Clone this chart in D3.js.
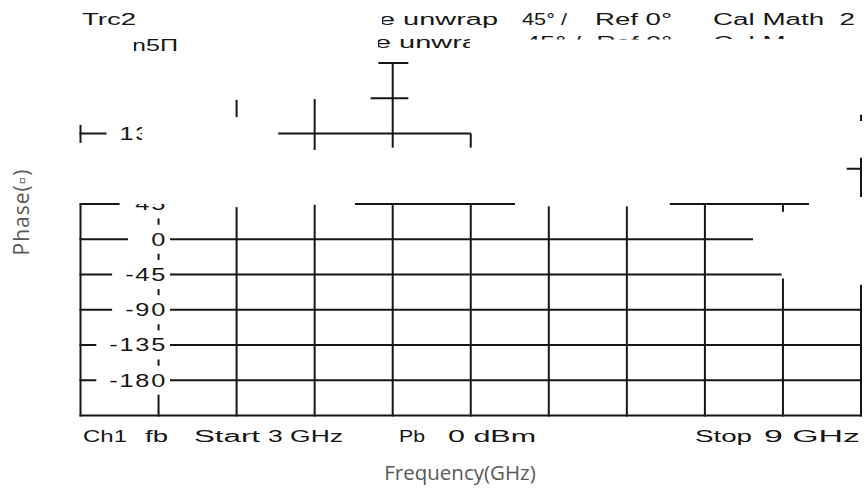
<!DOCTYPE html>
<html><head><meta charset="utf-8">
<script src="https://cdn.jsdelivr.net/npm/d3@7/dist/d3.min.js"></script>
<style>body{margin:0;background:#fff}svg{display:block}text{white-space:pre}</style>
</head><body>
<svg id="chart" width="866" height="492"></svg>
<script>
// ---------- data ----------
const freqDomain = [3, 9];            // GHz
const phaseDomain = [-225, 225];      // degrees
const phaseTicks = [180, 135, 90, 45, 0, -45, -90, -135, -180];
// visible horizontal grid/trace pieces: [phase, fromGHz, toGHz]
const hSegments = [
  [225, 5.29, 5.52], [180, 5.23, 5.52],
  [135, 3.0, 3.23], [135, 4.52, 6.0],
  [90, 8.89, 9.0],
  [45, 3.0, 3.30], [45, 5.11, 6.34], [45, 7.53, 8.60],
  [0, 3.0, 8.17], [-45, 3.0, 8.39],
  [-90, 3, 9], [-135, 3, 9], [-180, 3, 9], [-225, 3, 9]
];
// visible vertical pieces: [GHz, fromPhase, toPhase]
const vSegments = [
  [3.0, 146, 123], [3.0, 45, -225],
  [3.6, 45, -225],
  [4.2, 178, 156], [4.2, 41, -225],
  [4.8, 179, 114], [4.8, 44, -225],
  [5.4, 225, 117], [5.4, 45, -225],
  [6.0, 135, 117], [6.0, 45, -225],
  [6.6, 42, -225], [7.2, 42, -225], [7.8, 46, -225],
  [8.4, 46, 35], [8.4, -50, -225],
  [9.0, 159, 151], [9.0, 104, 54], [9.0, -58, -225]
];
const header1 = ["Trc2", "e unwrap", "45° /", "Ref 0°", "Cal Math  2"];
const header2 = ["n5Π", "e unwrap", "45° /  Ref 0°", "Cal Math  1"];
const footer = ["Ch1", "fb", "Start", "3 GHz", "Pb", "0 dBm", "Stop", "9 GHz"];
const xTitle = "Frequency(GHz)";
const yTitle = "Phase(▫)";

// ---------- layout ----------
const svg = d3.select("#chart");
const x = d3.scaleLinear().domain(freqDomain).range([80.5, 861]);
const y = d3.scaleLinear().domain(phaseDomain).range([415.5, 63]);
const ink = "#161616";
const instFont = "'Liberation Sans', Arial, sans-serif";
const defs = svg.append("defs");

function clip(id, rects) {
  const c = defs.append("clipPath").attr("id", id);
  rects.forEach(r => c.append("rect").attr("x", r[0]).attr("y", r[1]).attr("width", r[2]).attr("height", r[3]));
  return `url(#${id})`;
}

// grid pieces
svg.append("g").attr("stroke", ink).attr("stroke-width", 2).attr("fill", "none")
  .selectAll("line.h").data(hSegments).join("line")
  .attr("x1", d => x(d[1]) - (d[1] === 3 ? 1 : 0)).attr("x2", d => x(d[2]) + (d[2] === 9 ? 1 : 0))
  .attr("y1", d => y(d[0])).attr("y2", d => y(d[0]));
svg.append("g").attr("stroke", ink).attr("stroke-width", 2).attr("fill", "none")
  .selectAll("line.v").data(vSegments).join("line")
  .attr("x1", d => x(d[0])).attr("x2", d => x(d[0]))
  .attr("y1", d => y(d[1]) - (d[1] === 225 ? 1 : 0)).attr("y2", d => y(d[2]) + (d[2] === -225 ? 1 : 0));

// y tick labels with background boxes, partly hidden like the reference
const labelRight = 167;
const tickG = svg.append("g").attr("clip-path", clip("tickclip", [[0, 204, 866, 300], [0, 115, 142, 40]]));
phaseTicks.forEach(v => {
  const g = tickG.append("g");
  const box = g.append("rect").attr("fill", "#fff");
  const t = g.append("text").text(v)
    .attr("font-family", instFont).attr("font-size", 17.5).attr("fill", ink)
    .attr("letter-spacing", 1.2)
    .attr("text-anchor", "end")
    .attr("transform", `translate(${labelRight},${y(v) + 6.3}) scale(1.45,1)`);
  const w = t.node().getComputedTextLength() * 1.45;
  const left = Math.min(labelRight - w - 13, 128);
  box.attr("x", left).attr("y", y(v) - 14.5).attr("width", 170 - left).attr("height", 29);
});

// instrument text helper
function inst(str, x0, w, base, clipUrl) {
  const t = svg.append("text").text(str)
    .attr("x", x0).attr("y", base)
    .attr("font-family", instFont).attr("font-size", 16).attr("fill", ink)
    .attr("textLength", w).attr("lengthAdjust", "spacingAndGlyphs");
  if (clipUrl) t.attr("clip-path", clipUrl);
  return t;
}
// header line 1
const h1Layout = [[82, 54], [379, 119], [522, 45], [595, 77], [713, 142]];
header1.forEach((s, i) => inst(s, h1Layout[i][0], h1Layout[i][1], 25,
  i === 1 ? clip("c_h1e", [[382, 0, 200, 40]]) : null));
// header line 2 (mostly hidden)
inst(header2[0], 132, 46, 51, clip("c_h2a", [[134, 36, 60, 20]]));
inst(header2[1], 375, 119, 48, clip("c_h2b", [[378, 30, 92, 25]]));
inst(header2[2], 525, 147, 48, clip("c_h2c", [[500, 30, 200, 9.5]]));
inst(header2[3], 713, 142, 48, clip("c_h2d", [[700, 30, 100, 9]]));

// footer
const fLayout = [[83, 44], [145, 23], [194, 66], [268, 75], [399, 26], [448, 88], [695, 57], [764, 96]];
footer.forEach((s, i) => inst(s, fLayout[i][0], fLayout[i][1], 442));

// axis titles
svg.append("text").text(xTitle)
  .attr("x", 460).attr("y", 480).attr("text-anchor", "middle")
  .attr("font-family", "'Open Sans', sans-serif").attr("font-size", 20.5).attr("fill", "#595959");
svg.append("text").text(yTitle)
  .attr("transform", "translate(29,212) rotate(-90)").attr("text-anchor", "middle")
  .attr("letter-spacing", 1)
  .attr("font-family", "'Open Sans', sans-serif").attr("font-size", 21).attr("fill", "#595959");
</script>
</body></html>
